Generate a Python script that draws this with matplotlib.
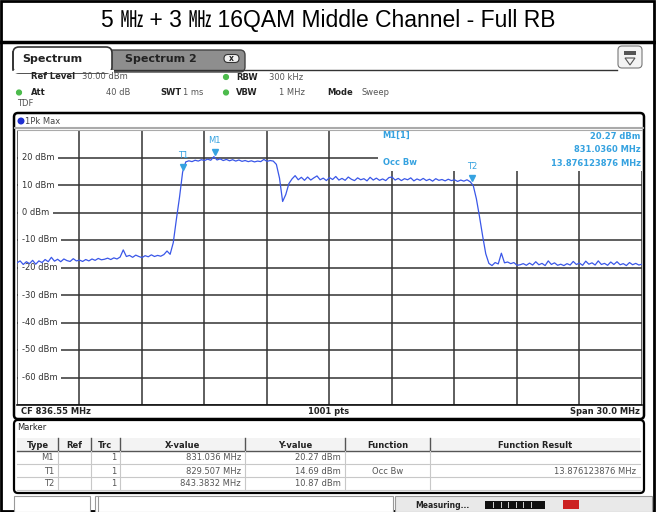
import numpy as np
import matplotlib
matplotlib.use("Agg")
import matplotlib.pyplot as plt
from matplotlib.patches import Rectangle, FancyBboxPatch, Circle, Polygon
import matplotlib.transforms as mtransforms

# ---------------- data ----------------
TITLE = "5 \u3392 + 3 \u3392 16QAM Middle Channel - Full RB"
CF_MHZ = 836.55
SPAN_MHZ = 30.0
REF_LEVEL_DBM = 30.0
BOTTOM_DBM = -70.0
N_PTS_LABEL = "1001 pts"

y_tick_values = [20, 10, 0, -10, -20, -30, -40, -50, -60]
y_tick_labels = ["20 dBm", "10 dBm", "0 dBm", "-10 dBm", "-20 dBm",
                 "-30 dBm", "-40 dBm", "-50 dBm", "-60 dBm"]

# trace (1Pk Max), 201 samples across the span
trace_dbm = [
    -18.3, -17.6, -18.9, -17.9, -18.6, -17.4, -18.8, -17.6, -18.2, -17.1,
    -17.9, -16.3, -17.7, -17.0, -17.9, -16.9, -17.5, -17.8, -16.8, -17.6,
    -17.3, -17.8, -17.1, -17.6, -16.9, -17.4, -16.7, -17.2, -17.0, -16.6,
    -17.1, -16.5, -16.9, -16.2, -13.6, -16.0, -15.6, -16.3, -15.5, -16.0,
    -16.4, -15.7, -16.1, -15.4, -16.0, -15.6, -15.9, -15.3, -14.0, -15.2,
    -11.0, -2.5, 5.5, 14.7, 18.4, 18.8, 18.5, 19.0, 18.7, 19.2,
    18.9, 19.4, 19.0, 20.3, 19.1, 19.5, 18.9, 19.3, 18.8, 19.2,
    18.7, 19.1, 18.6, 18.9, 18.5, 18.8, 18.4, 18.7, 18.5, 19.3,
    18.6, 18.9, 18.7, 17.5, 12.5, 4.0, 6.5, 10.5, 12.2, 13.4,
    11.9, 12.8, 11.7, 12.9, 11.8, 12.6, 13.3, 11.9, 12.5, 11.6,
    12.7, 12.0, 13.1, 11.8, 12.4, 11.7, 12.9, 12.1, 11.6, 12.6,
    11.9, 12.3, 11.5, 12.8, 11.8, 12.5, 11.7, 12.2, 11.6, 12.7,
    12.9, 11.8, 12.4, 11.6, 12.3, 11.9, 12.6, 11.5, 12.2, 11.7,
    12.4, 11.6, 12.1, 11.4, 12.3, 11.7, 12.0, 11.5, 12.1, 11.6,
    11.9, 11.3, 11.8, 11.4, 11.9, 11.2, 9.8, 5.0, -1.5, -8.5,
    -15.0, -18.5, -19.3, -18.2, -18.7, -14.8, -18.3, -18.0, -18.6, -18.2,
    -19.2, -19.0, -18.6, -19.2, -18.4, -19.1, -17.9, -19.0, -18.5, -19.3,
    -17.6, -18.9, -18.3, -19.2, -18.8, -19.3, -18.6, -19.1, -17.8, -18.9,
    -18.4, -19.2, -17.7, -18.8, -18.3, -19.1, -17.6, -18.9, -18.5, -19.2,
    -18.0, -18.9, -17.9, -19.0, -18.6, -19.3, -18.2, -19.0, -18.5, -19.1,
    -18.8,
]

marker_names = ["M1", "T1", "T2"]
marker_freqs_mhz = [831.036, 829.507, 843.3832]
marker_levels_dbm = [20.27, 14.69, 10.87]
marker_x_text = ["831.036 MHz", "829.507 MHz", "843.3832 MHz"]
marker_y_text = ["20.27 dBm", "14.69 dBm", "10.87 dBm"]
marker_func = ["", "Occ Bw", ""]
marker_result = ["", "13.876123876 MHz", ""]
readout_lines = ["20.27 dBm", "831.0360 MHz", "13.876123876 MHz"]
table_headers = ["Type", "Ref", "Trc", "X-value", "Y-value", "Function", "Function Result"]

# ---------------- style ----------------
W, H = 656, 512
TRACE_C = "#3a57e8"
MARK_C = "#35a2e0"
TXT_C = "#555555"
BOLD_C = "#222222"
GREEN = "#4cbb4c"
FS = 6.0

fig = plt.figure(figsize=(W / 100, H / 100), dpi=100)
fig.patch.set_facecolor("white")

ov = fig.add_axes([0, 0, 1, 1], zorder=0)
ov.set_xlim(0, W)
ov.set_ylim(H, 0)
ov.axis("off")

# outer border and title band
ov.add_patch(Rectangle((1, 1), W - 3, H - 2, fill=False, ec="black", lw=2))
ov.plot([1, W - 2], [42, 42], color="black", lw=2.5)
ov.text(W / 2, 21, TITLE, ha="center", va="center", fontsize=16.5,
        family=["Liberation Sans", "Noto Sans CJK SC", "DejaVu Sans"], color="black")

# tabs
ov.add_patch(FancyBboxPatch((108, 50), 137, 22, boxstyle="round,pad=0,rounding_size=5",
                            fc="#8e8e8e", ec="#444444", lw=1.0))
ov.add_patch(FancyBboxPatch((13, 47), 99, 26, boxstyle="round,pad=0,rounding_size=6",
                            fc="white", ec="#333333", lw=1.2, zorder=3))
ov.add_patch(Rectangle((12, 69.8), 102, 3.5, fc="white", ec="none", zorder=4))
ov.plot([112, 617], [69.5, 69.5], color="#333333", lw=1.0, zorder=2)
ov.plot([13, 13], [52, 70], color="#333333", lw=1.2, zorder=5)
ov.text(22, 59, "Spectrum", fontsize=8, fontweight="bold", color="#222222", va="center", zorder=6)
ov.text(125, 59, "Spectrum 2", fontsize=8, fontweight="bold", color="#222222", va="center")
ov.add_patch(FancyBboxPatch((224, 54.5), 15, 8, boxstyle="round,pad=0,rounding_size=4",
                            fc="#f0f0f0", ec="#333333", lw=0.8))
ov.text(231.5, 58.5, "x", fontsize=5.5, fontweight="bold", ha="center", va="center", color="#222")

# top-right icon
ov.add_patch(FancyBboxPatch((618, 46), 24, 22, boxstyle="round,pad=0,rounding_size=4",
                            fc="#f4f4f4", ec="#777777", lw=0.8))
ov.add_patch(Rectangle((624, 51), 12, 4, fc="#555555", ec="none"))
ov.add_patch(Polygon([[625, 58], [635, 58], [630, 65]], closed=True, fill=False, ec="#555555", lw=0.8))

# header information
def label(x, y, s, bold=False, ha="left", color=None, fs=FS):
    ov.text(x, y, s, fontsize=fs, fontweight="bold" if bold else "normal",
            color=color or (BOLD_C if bold else TXT_C), ha=ha, va="center", zorder=8)

label(31, 76.5, "Ref Level", bold=True)
label(82, 76.5, "30.00 dBm")
ov.add_patch(Circle((19, 92.5), 2.4, color=GREEN))
label(31, 92.5, "Att", bold=True)
label(130, 92.5, "40 dB", ha="right")
label(160, 92.5, "SWT", bold=True)
label(183, 92.5, "1 ms")
ov.add_patch(Circle((226, 77), 2.4, color=GREEN))
label(236, 77, "RBW", bold=True)
label(269, 77, "300 kHz")
ov.add_patch(Circle((226, 92.5), 2.4, color=GREEN))
label(236, 92.5, "VBW", bold=True)
label(279, 92.5, "1 MHz")
label(327, 92.5, "Mode", bold=True)
label(362, 92.5, "Sweep")
label(17, 104, "TDF")

# plot frame
ov.add_patch(FancyBboxPatch((14, 113), 630, 306, boxstyle="round,pad=0,rounding_size=4",
                            fc="white", ec="black", lw=1.8))
ov.add_patch(Circle((21, 121), 2.8, color="#1f2fd0"))
label(25, 121, "1Pk Max", color="#444444")
ov.plot([15, 643], [128, 128], color="#aaaaaa", lw=1.5)
label(21, 412, "CF 836.55 MHz", bold=True)
label(329, 412, N_PTS_LABEL, bold=True, ha="center")
label(640, 412, "Span 30.0 MHz", bold=True, ha="right")

# marker table panel
ov.add_patch(FancyBboxPatch((14, 420), 630, 73, boxstyle="round,pad=0,rounding_size=4",
                            fc="white", ec="black", lw=1.6))
label(17, 428, "Marker", bold=False, color="#222222")
col_edges = [17, 58, 91, 120, 245, 345, 430, 640]
row_edges = [438, 451, 464, 477, 490]
ov.add_patch(Rectangle((col_edges[0], row_edges[0]), col_edges[-1] - col_edges[0],
                       row_edges[1] - row_edges[0], fc="#f3f3f3", ec="none"))
for yy in row_edges[2:]:
    ov.plot([col_edges[0], col_edges[-1]], [yy, yy], color="#c8c8c8", lw=0.8)
ov.plot([col_edges[0], col_edges[-1]], [row_edges[1], row_edges[1]], color="#555555", lw=1.0)
for xx in col_edges[1:-1]:
    ov.plot([xx, xx], [row_edges[0], row_edges[1]], color="#555555", lw=1.0)
    ov.plot([xx, xx], [row_edges[1], row_edges[-1]], color="#c8c8c8", lw=0.8)
for c, hname in enumerate(table_headers):
    label((col_edges[c] + col_edges[c + 1]) / 2, (row_edges[0] + row_edges[1]) / 2 + 0.5,
          hname, bold=True, ha="center")
for r in range(len(marker_names)):
    yy = (row_edges[r + 1] + row_edges[r + 2]) / 2 + 0.5
    label(col_edges[1] - 4, yy, marker_names[r], ha="right")
    label(col_edges[3] - 4, yy, "1", ha="right")
    label(col_edges[4] - 4, yy, marker_x_text[r], ha="right")
    label(col_edges[5] - 4, yy, marker_y_text[r], ha="right")
    label((col_edges[5] + col_edges[6]) / 2, yy, marker_func[r], ha="center")
    label(col_edges[7] - 4, yy, marker_result[r], ha="right")

# bottom status bar
ov.add_patch(Rectangle((14, 496), 76, 16, fc="white", ec="#999999", lw=0.8))
ov.add_patch(Rectangle((95, 496), 298, 16, fc="white", ec="#999999", lw=0.8))
ov.plot([98, 98], [496, 512], color="#999999", lw=0.8)
ov.add_patch(Rectangle((395, 496), 257, 16, fc="#e9e9e9", ec="#999999", lw=0.8))
label(415, 505, "Measuring...", bold=True, fs=5.5)
ov.add_patch(Rectangle((485, 501), 60, 8, fc="#111111", ec="none"))
for k in range(6):
    ov.add_patch(Rectangle((493 + k * 7.5, 502), 1.2, 6, fc="#cccccc", ec="none"))
ov.add_patch(Rectangle((563, 500), 16, 9, fc="#cc2222", ec="none"))

# ---------------- spectrum plot ----------------
GX0, GX1, GY0, GY1 = 17, 642, 130, 405
ax = fig.add_axes([GX0 / W, 1 - GY1 / H, (GX1 - GX0) / W, (GY1 - GY0) / H], zorder=2)
f_start = CF_MHZ - SPAN_MHZ / 2
f_stop = CF_MHZ + SPAN_MHZ / 2
freqs = np.linspace(f_start, f_stop, len(trace_dbm))

ax.set_xlim(f_start, f_stop)
ax.set_ylim(BOTTOM_DBM, REF_LEVEL_DBM)
ax.set_xticks(np.arange(f_start, f_stop + 0.01, SPAN_MHZ / 10))
ax.set_yticks(np.arange(BOTTOM_DBM, REF_LEVEL_DBM + 0.01, 10))
ax.tick_params(length=0, labelbottom=False, labelleft=False)
ax.set_axisbelow(True)
ax.grid(True, color="#333333", lw=1.1)
for s in ["left", "right"]:
    ax.spines[s].set_visible(False)
ax.spines["top"].set_color("#aaaaaa")
ax.spines["bottom"].set_color("#111111")
ax.spines["bottom"].set_linewidth(1.2)

ytr = ax.get_yaxis_transform()
for v, s in zip(y_tick_values, y_tick_labels):
    ax.text(0.0075, v, s, transform=ytr, fontsize=FS, color="#333333", va="center", ha="left",
            zorder=2, bbox=dict(fc="white", ec="none", pad=3.0))

# readout box (covers grid in upper right)
ax.add_patch(Rectangle((838.9, 15.2), f_stop - 838.9, REF_LEVEL_DBM - 15.2,
                       fc="white", ec="none", zorder=1.5))
ax.text(839.1, 28.0, "M1[1]", fontsize=FS, fontweight="bold", color=MARK_C, va="center", zorder=4)
ax.text(839.1, 18.2, "Occ Bw", fontsize=FS, fontweight="bold", color=MARK_C, va="center", zorder=4)
for k, s in enumerate(readout_lines):
    ax.text(0.998, 27.7 - k * 4.9, s, transform=ax.get_yaxis_transform(), fontsize=FS,
            fontweight="bold", color=MARK_C, ha="right", va="center", zorder=4)

ax.plot(freqs, trace_dbm, color=TRACE_C, lw=0.9, zorder=3)

up = mtransforms.offset_copy(ax.transData, fig=fig, x=0, y=3.5, units="points")
for name, fm, lv in zip(marker_names, marker_freqs_mhz, marker_levels_dbm):
    ax.plot([fm], [lv], marker="v", ms=4.5, color=MARK_C, transform=up, zorder=5)
    ax.annotate(name, (fm, lv), xytext=(0, 8.5), textcoords="offset points",
                fontsize=FS, color=MARK_C, ha="center", va="bottom", zorder=5)

fig.savefig("out.png", dpi=100)
